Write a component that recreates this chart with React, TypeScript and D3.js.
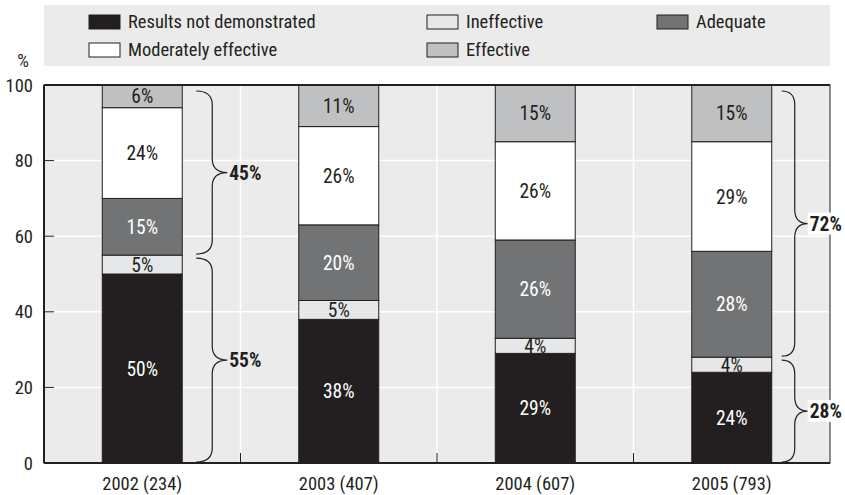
import React from 'react';
import * as d3 from 'd3';

const categories = ['2002 (234)', '2003 (407)', '2004 (607)', '2005 (793)'];
const seriesNames = ['Results not demonstrated', 'Ineffective', 'Adequate', 'Moderately effective', 'Effective'];
const notDemonstrated = [50, 38, 29, 24];
const ineffective = [5, 5, 4, 4];
const adequate = [15, 20, 26, 28];
const moderately = [24, 26, 26, 29];
const effective = [6, 11, 15, 15];
const yTicks = [0, 20, 40, 60, 80, 100];
// braces: category index, from, to, label
const braces = [
  { cat: 0, from: 0, to: 55, label: '55%' },
  { cat: 0, from: 55, to: 100, label: '45%' },
  { cat: 3, from: 0, to: 28, label: '28%' },
  { cat: 3, from: 28, to: 100, label: '72%' },
];

const colors = ['#231f20', '#e6e7e8', '#727375', '#ffffff', '#bfc0c2'];
const textColors = ['#ffffff', '#231f20', '#ffffff', '#231f20', '#231f20'];
const FONT = "'Liberation Sans Narrow', 'Arial Narrow', 'Roboto Condensed', sans-serif";
const FS = 18.5;
const FS_BAR = 19.5;

const W = 845, H = 495;
const M = { left: 44, right: 15, top: 85, bottom: 32 };

function bracePath(x: number, y0: number, y1: number, w: number, tip: number) {
  const r = 14;
  const ym = (y0 + y1) / 2;
  return `M${x},${y0} Q${x + w},${y0} ${x + w},${y0 + r} L${x + w},${ym - r} Q${x + w},${ym} ${x + w + tip},${ym} ` +
    `Q${x + w},${ym} ${x + w},${ym + r} L${x + w},${y1 - r} Q${x + w},${y1} ${x},${y1}`;
}

export default function App() {
  const rows = categories.map((c, i) => ({
    cat: c,
    [seriesNames[0]]: notDemonstrated[i],
    [seriesNames[1]]: ineffective[i],
    [seriesNames[2]]: adequate[i],
    [seriesNames[3]]: moderately[i],
    [seriesNames[4]]: effective[i],
  }));
  const stacked = d3.stack<any>().keys(seriesNames)(rows);

  const x = d3.scaleBand<string>().domain(categories)
    .range([M.left, W - M.right]).paddingInner(0.593).paddingOuter(0.2965);
  const y = d3.scaleLinear().domain([0, 100]).range([H - M.bottom, M.top]);
  const step = x.step();
  const bw = x.bandwidth();
  const separators = categories.slice(0, -1).map((c) => (x(c) as number) + bw / 2 + step / 2);

  const legendCols = [89, 427, 657];
  const legendRows = [22, 50];

  return (
    <svg width={W} height={H} style={{ position: 'absolute', left: 0, top: 0, fontFamily: FONT }}>
      <rect x={0} y={0} width={W} height={H} fill="#ffffff" />
      {/* legend */}
      <rect x={M.left} y={5} width={W - M.right - M.left} height={61} fill="#ebebeb" />
      {seriesNames.map((s, i) => {
        const lx = legendCols[i % 3];
        const ly = legendRows[Math.floor(i / 3)];
        return (
          <g key={s}>
            <rect x={lx} y={ly - 7} width={31} height={14} fill={colors[i]} stroke="#231f20" strokeWidth={1} />
            <text x={lx + 39} y={ly} dy="0.35em" fontSize={FS} fill="#231f20">{s}</text>
          </g>
        );
      })}
      {/* plot background */}
      <rect x={M.left} y={M.top} width={W - M.right - M.left} height={H - M.bottom - M.top} fill="#ebebeb" />
      {yTicks.slice(1, -1).map((t) => (
        <line key={t} x1={M.left} x2={W - M.right} y1={y(t)} y2={y(t)} stroke="#ffffff" strokeWidth={1.5} />
      ))}
      {separators.map((sx, i) => (
        <g key={i}>
          <line x1={sx} x2={sx} y1={M.top} y2={H - M.bottom} stroke="#ffffff" strokeWidth={1.5} />
          <line x1={sx} x2={sx} y1={H - M.bottom - 10} y2={H - M.bottom} stroke="#231f20" strokeWidth={1} />
        </g>
      ))}
      {/* bars */}
      {stacked.map((layer, si) => (
        <g key={layer.key}>
          {layer.map((d, ci) => (
            <rect key={ci} x={x(categories[ci])} y={y(d[1])} width={bw} height={y(d[0]) - y(d[1])}
              fill={colors[si]} stroke="#231f20" strokeWidth={1} />
          ))}
        </g>
      ))}
      {stacked.map((layer, si) => (
        <g key={layer.key + 'l'}>
          {layer.map((d, ci) => (
            <text key={ci} x={(x(categories[ci]) as number) + bw / 2} y={(y(d[0]) + y(d[1])) / 2} dy="0.36em"
              textAnchor="middle" fontSize={FS_BAR} fill={textColors[si]}>
              {`${d[1] - d[0]}%`}
            </text>
          ))}
        </g>
      ))}
      {/* frame and axes */}
      <rect x={M.left} y={M.top} width={W - M.right - M.left} height={H - M.bottom - M.top}
        fill="none" stroke="#231f20" strokeWidth={1} />
      <line x1={M.left} x2={W - M.right} y1={M.top} y2={M.top} stroke="#231f20" strokeWidth={2} />
      <line x1={M.left} x2={M.left} y1={M.top} y2={H - M.bottom} stroke="#231f20" strokeWidth={2} />
      <line x1={M.left} x2={W - M.right} y1={H - M.bottom} y2={H - M.bottom} stroke="#231f20" strokeWidth={2} />
      {/* braces */}
      {braces.map((b, i) => {
        const last = b.cat === categories.length - 1;
        const bx = (x(categories[b.cat]) as number) + bw + (last ? 10 : 14);
        const w = last ? 13 : 16;
        const tip = last ? 13 : 15;
        const y0 = y(b.to) + (b.to === 100 ? 6 : 3);
        const y1 = y(b.from) - 1;
        const ym = (y0 + y1) / 2;
        const lx = bx + w + tip + 2;
        return (
          <g key={i}>
            <path d={bracePath(bx, y0, y1, w, tip)} fill="none" stroke="#231f20" strokeWidth={1.2} />
            {last && <rect x={lx - 2} y={ym - 11} width={W - lx + 2} height={22} fill="#ffffff" />}
            <text x={lx} y={ym} dy="0.36em" fontSize={FS_BAR} fontWeight="bold" fill="#231f20">{b.label}</text>
          </g>
        );
      })}
      {yTicks.map((t) => (
        <g key={t}>
          <line x1={M.left} x2={M.left + 10} y1={y(t)} y2={y(t)} stroke="#231f20" strokeWidth={1} />
          <text x={33} y={y(t)} dy="0.36em" textAnchor="end" fontSize={FS} fill="#231f20">{t}</text>
        </g>
      ))}
      <text x={23} y={67} textAnchor="middle" fontSize={FS} fill="#231f20">%</text>
      {categories.map((c) => (
        <text key={c} x={(x(c) as number) + bw / 2} y={H - M.bottom + 21} textAnchor="middle" dy="0.35em"
          fontSize={FS} fill="#231f20">{c}</text>
      ))}
    </svg>
  );
}
